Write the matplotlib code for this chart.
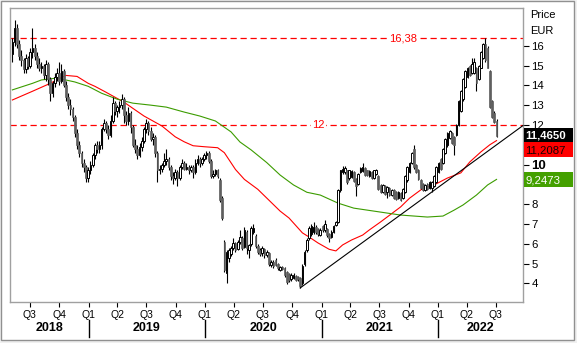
import matplotlib
matplotlib.use('Agg')
import matplotlib.pyplot as plt
import matplotlib.dates as mdates
import matplotlib.transforms as mtrans
from matplotlib.patches import Rectangle
from matplotlib.lines import Line2D
import pandas as pd

plt.rcParams['font.family'] = ['Liberation Sans', 'DejaVu Sans']

# ---------------- data ----------------
first_week = '2018-05-07'
opens = [15.6, 16.2, 16.9, 16.1, 15.5, 15.3, 14.8, 15.4, 15.0, 15.7, 15.9, 15.5, 15.1, 14.9, 15.0, 14.5,
         15.1, 14.3, 13.6, 14.1, 14.4, 14.6, 14.2, 14.7, 14.0, 13.4, 13.0, 12.8, 12.4, 11.6, 11.0, 10.6,
         10.1, 9.9, 9.3, 9.7, 10.0, 10.5, 11.0, 10.8, 11.0, 11.8, 12.1, 11.8, 11.5, 12.2, 13.1, 12.7,
         12.9, 13.0, 13.3, 12.5, 12.2, 12.6, 11.9, 11.0, 10.8, 10.5, 10.9, 11.2, 11.8, 12.1, 11.7, 11.3,
         11.4, 10.6, 9.7, 9.8, 10.0, 10.2, 10.3, 9.9, 9.4, 9.3, 9.6, 9.3, 9.9, 10.1, 9.8, 9.9,
         9.7, 9.9, 9.6, 10.1, 10.3, 10.1, 10.3, 10.5, 10.6, 10.2, 9.4, 9.5, 9.7, 9.2, 8.3, 6.1,
         4.5, 5.3, 5.5, 5.8, 6.05, 5.75, 6.1, 6.3, 5.85, 6.6, 5.7, 6.0, 6.6, 6.4, 5.9, 5.7,
         5.55, 5.75, 5.45, 5.55, 4.95, 5.1, 5.2, 5.0, 4.7, 4.85, 4.8, 4.6, 4.45, 4.2, 4.25, 4.35,
         4.3, 4.25, 4.0, 5.0, 5.7, 6.3, 6.5, 6.6, 6.85, 6.75, 6.45, 6.9, 6.7, 6.75, 6.5, 6.35,
         6.6, 6.95, 7.1, 8.7, 9.6, 9.6, 9.7, 9.3, 9.35, 9.6, 9.25, 9.0, 9.6, 9.65, 9.85, 9.7,
         9.4, 9.6, 9.3, 9.5, 9.4, 8.95, 8.6, 8.9, 8.6, 8.8, 8.45, 8.7, 8.6, 8.3, 8.55, 8.3,
         8.6, 9.2, 9.6, 10.1, 10.8, 10.0, 9.75, 9.2, 9.0, 8.7, 9.0, 8.8, 8.8, 8.9, 9.1, 9.6,
         10.3, 10.1, 10.6, 11.0, 11.35, 11.6, 11.4, 11.5, 12.0, 12.7, 13.3, 13.9, 14.4, 15.0, 14.6, 14.6,
         14.9, 14.3, 14.9, 15.4, 16.1, 15.9, 14.7, 13.2, 12.6, 12.2]
highs = [16.4, 17.3, 17.1, 16.3, 15.8, 15.4, 15.6, 15.5, 15.9, 16.9, 16.1, 15.7, 15.4, 15.2, 15.1, 15.3,
         15.2, 14.4, 14.2, 14.6, 14.9, 15.2, 15.1, 14.8, 14.2, 13.6, 13.3, 12.9, 12.5, 11.8, 11.2, 10.7,
         10.3, 10.0, 9.9, 10.2, 10.6, 11.1, 11.2, 11.2, 11.9, 12.3, 12.2, 12.0, 12.5, 13.4, 13.2, 13.0,
         13.2, 13.55, 13.4, 12.7, 12.9, 12.7, 12.0, 11.3, 11.0, 11.1, 11.4, 11.9, 12.3, 12.2, 11.9, 11.6,
         11.5, 10.7, 10.0, 10.1, 10.6, 10.8, 10.4, 10.0, 9.6, 9.8, 9.7, 10.0, 10.3, 10.2, 10.1, 10.0,
         10.0, 10.0, 10.3, 10.5, 10.4, 10.4, 10.6, 10.7, 10.7, 10.3, 9.7, 9.8, 9.8, 9.3, 8.4, 6.2,
         5.7, 5.8, 5.9, 6.3, 6.1, 6.2, 6.7, 6.4, 6.85, 6.7, 6.0, 6.9, 7.0, 6.5, 6.0, 5.8,
         5.9, 5.8, 5.7, 5.6, 5.2, 5.2, 5.3, 5.05, 4.9, 4.9, 4.85, 4.65, 4.5, 4.5, 4.5, 4.4,
         4.35, 4.3, 5.0, 5.7, 6.3, 6.9, 7.0, 7.1, 6.95, 6.8, 6.8, 6.95, 7.2, 6.8, 6.55, 6.7,
         6.95, 7.15, 8.75, 9.75, 9.95, 9.95, 9.75, 9.75, 9.7, 9.65, 9.3, 9.55, 9.9, 10.1, 9.9, 9.75,
         9.7, 9.65, 9.75, 9.8, 9.45, 9.0, 9.0, 8.95, 8.9, 8.85, 8.75, 8.75, 8.65, 8.65, 8.6, 8.8,
         9.45, 9.95, 10.15, 10.65, 11.0, 10.05, 9.8, 9.25, 9.05, 9.0, 9.05, 9.15, 9.15, 9.45, 9.95, 10.15,
         10.35, 10.85, 11.35, 11.65, 11.75, 11.65, 11.45, 12.05, 13.25, 13.75, 14.35, 14.75, 14.95, 15.05, 15.4, 15.4,
         14.95, 15.05, 15.75, 16.15, 16.38, 16.0, 14.75, 13.25, 12.7, 12.3]
lows = [15.2, 16.0, 15.9, 15.3, 15.0, 14.6, 14.6, 14.8, 14.9, 15.4, 15.3, 14.9, 14.7, 14.6, 14.3, 14.2,
        14.0, 13.2, 13.4, 13.9, 14.2, 14.0, 14.1, 13.9, 13.2, 12.8, 12.5, 12.2, 11.4, 10.8, 10.4, 9.9,
        9.6, 9.1, 9.1, 9.5, 9.9, 10.3, 10.6, 10.6, 10.8, 11.7, 11.6, 11.3, 11.4, 12.1, 12.5, 12.4,
        12.6, 12.8, 12.1, 12.0, 12.0, 11.6, 10.9, 10.6, 10.3, 10.4, 10.7, 11.1, 11.6, 11.5, 11.2, 11.0,
        10.4, 9.1, 9.5, 9.6, 9.9, 10.0, 9.7, 9.2, 9.0, 9.2, 8.9, 9.2, 9.8, 9.7, 9.7, 9.5,
        9.6, 9.3, 9.5, 10.0, 9.9, 10.0, 10.2, 10.3, 10.1, 9.3, 9.3, 9.4, 9.3, 8.1, 7.2, 4.6,
        4.0, 5.1, 5.4, 5.7, 5.6, 5.7, 6.0, 5.7, 5.8, 5.5, 5.3, 5.9, 6.5, 5.8, 5.5, 5.4,
        5.4, 5.3, 5.35, 4.9, 4.85, 4.8, 4.9, 4.7, 4.65, 4.7, 4.3, 3.95, 4.05, 4.1, 4.2, 4.1,
        4.1, 3.75, 3.9, 4.9, 5.6, 6.2, 6.4, 6.5, 6.5, 6.4, 6.4, 6.6, 6.6, 6.35, 6.1, 6.3,
        6.55, 6.9, 7.05, 8.6, 9.5, 9.5, 9.0, 9.2, 9.3, 9.1, 8.4, 8.95, 9.55, 9.6, 9.4, 9.4,
        9.35, 9.25, 9.25, 9.45, 8.7, 8.55, 8.55, 8.45, 8.3, 8.4, 8.4, 8.25, 8.2, 8.25, 8.15, 8.25,
        8.55, 9.1, 9.55, 10.05, 9.8, 9.55, 9.2, 8.75, 8.65, 8.65, 8.7, 8.75, 8.6, 8.85, 9.05, 9.55,
        9.75, 10.05, 10.55, 10.9, 11.3, 11.05, 10.5, 11.45, 11.95, 12.65, 13.2, 13.85, 14.35, 14.45, 14.55, 14.55,
        13.7, 14.25, 14.85, 15.35, 15.2, 14.85, 12.85, 12.35, 12.1, 11.4]
closes = [16.2, 16.9, 16.1, 15.5, 15.3, 14.8, 15.4, 15.0, 15.7, 15.9, 15.5, 15.1, 14.9, 15.0, 14.5, 15.1,
          14.3, 13.6, 14.1, 14.4, 14.6, 14.2, 14.7, 14.0, 13.4, 13.0, 12.8, 12.4, 11.6, 11.0, 10.6, 10.1,
          9.9, 9.3, 9.7, 10.0, 10.5, 11.0, 10.8, 11.0, 11.8, 12.1, 11.8, 11.5, 12.2, 13.1, 12.7, 12.9,
          13.0, 13.3, 12.5, 12.2, 12.6, 11.9, 11.0, 10.8, 10.5, 10.9, 11.2, 11.8, 12.1, 11.7, 11.3, 11.4,
          10.6, 9.7, 9.8, 10.0, 10.2, 10.3, 9.9, 9.4, 9.3, 9.6, 9.3, 9.9, 10.1, 9.8, 9.9, 9.7,
          9.9, 9.6, 10.1, 10.3, 10.1, 10.3, 10.5, 10.6, 10.2, 9.4, 9.5, 9.7, 9.4, 8.2, 7.3, 4.7,
          5.6, 5.7, 5.8, 6.05, 5.7, 6.1, 6.35, 5.8, 6.7, 5.8, 5.95, 6.8, 6.8, 5.9, 5.6, 5.5,
          5.8, 5.45, 5.6, 5.0, 5.1, 4.9, 4.95, 4.8, 4.85, 4.75, 4.4, 4.05, 4.15, 4.4, 4.4, 4.15,
          4.2, 3.85, 4.9, 5.6, 6.2, 6.8, 6.9, 6.85, 6.6, 6.5, 6.7, 6.7, 7.0, 6.45, 6.3, 6.6,
          6.9, 7.1, 8.7, 9.7, 9.8, 9.85, 9.1, 9.7, 9.65, 9.15, 8.9, 9.5, 9.85, 9.9, 9.45, 9.45,
          9.65, 9.3, 9.7, 9.75, 8.75, 8.6, 8.95, 8.5, 8.85, 8.45, 8.7, 8.3, 8.25, 8.6, 8.2, 8.75,
          9.4, 9.9, 10.1, 10.6, 9.9, 9.6, 9.25, 8.8, 8.7, 8.95, 8.75, 9.1, 9.1, 9.4, 9.9, 10.1,
          9.8, 10.8, 11.3, 11.6, 11.7, 11.1, 11.0, 12.0, 13.2, 13.7, 14.3, 14.7, 14.9, 14.5, 15.1, 15.2,
          14.1, 15.0, 15.7, 16.1, 15.3, 14.9, 12.9, 12.4, 12.15, 11.465]

# moving averages (candle index, value)
red_ma_idx = [0, 9, 17, 22, 24, 29, 34, 37, 42, 50, 59, 67, 73, 77, 81, 86, 92, 95, 100, 104, 110,
              115, 120, 124, 130, 133, 137, 142, 145, 148, 152, 157, 160, 165, 174, 178, 184, 189,
              195, 201, 205, 210, 214, 217]
red_ma_val = [13.26, 13.7, 14.1, 14.4, 14.5, 14.45, 14.1, 13.95, 13.65, 13.15, 12.45, 11.95, 11.4,
              11.15, 10.95, 10.9, 10.85, 10.6, 9.75, 9.25, 8.75, 8.2, 7.65, 7.3, 6.55, 6.34, 6.04,
              5.72, 5.64, 5.94, 6.19, 6.44, 6.7, 7.1, 7.86, 8.3, 8.8, 8.97, 9.32, 9.58, 10.13, 10.64,
              11.0, 11.21]
green_ma_idx = [0, 9, 13, 20, 28, 34, 40, 47, 54, 62, 69, 77, 84, 91, 98, 102, 107, 114, 120, 126,
                132, 138, 146, 153, 165, 174, 180, 186, 193, 198, 202, 208, 213, 217]
green_ma_val = [13.77, 14.1, 14.27, 14.37, 14.17, 13.95, 13.6, 13.3, 13.1, 13.0, 12.9, 12.65, 12.45,
                12.2, 11.65, 11.14, 10.74, 10.1, 9.47, 8.97, 8.6, 8.46, 8.05, 7.8, 7.6, 7.45, 7.4,
                7.35, 7.4, 7.7, 7.96, 8.46, 8.97, 9.25]

trend_start_idx = 129
trend_start_val = 3.77
trend_end_date = '2022-09-25'
trend_end_val = 11.97

level_high = 16.38
level_mid = 12.0
last_close = 11.4650
last_red = 11.2087
last_green = 9.2473

y_ticks = [4, 5, 6, 7, 8, 9, 10, 11, 12, 13, 14, 15, 16]
y_hidden = [9, 11]          # labels covered by the value boxes
years = [2018, 2019, 2020, 2021, 2022]

# ---------------- figure ----------------
W, H = 577, 343
fig = plt.figure(figsize=(W / 100, H / 100), dpi=100, facecolor='#f0f0f0')
fig.add_artist(Rectangle((0.5 / W, 1 - 340 / H), 573.5 / W, 339.5 / H, transform=fig.transFigure,
                         facecolor='white', edgecolor='#909090', lw=1.0, zorder=-5))

L, R, T, B = 9.5, 523, 7.5, 302
ax = fig.add_axes([L / W, 1 - B / H, (R - L) / W, (B - T) / H])
ax.set_facecolor('white')

dates = pd.date_range(first_week, periods=len(closes), freq='7D')
xd = mdates.date2num(dates.to_pydatetime())

body_w = 5.2
for x, o, h, l, c in zip(xd, opens, highs, lows, closes):
    up = c >= o
    ax.vlines(x, l, h, color='black', lw=0.8, zorder=3)
    bot = min(o, c)
    ht = max(abs(c - o), 0.03)
    if up:
        ax.bar(x, ht, bottom=bot, width=body_w, facecolor='white', edgecolor='black', lw=0.7, zorder=4)
    else:
        ax.bar(x, ht, bottom=bot, width=body_w, facecolor='#5f5f5f', edgecolor='#5f5f5f', lw=0.5, zorder=4)

ax.plot(xd[red_ma_idx], red_ma_val, color='#ff0000', lw=0.8, zorder=2)
ax.plot(xd[green_ma_idx], green_ma_val, color='#3c9c00', lw=0.8, zorder=2)

x_end = mdates.date2num(pd.Timestamp(trend_end_date).to_pydatetime())
ax.plot([xd[trend_start_idx], x_end], [trend_start_val, trend_end_val], color='black', lw=0.8,
        zorder=5, clip_on=False)

for lv in (level_high, level_mid):
    ax.axhline(lv, color='#ff0000', lw=0.9, linestyle=(0, (5, 3)), zorder=1)

blend = mtrans.blended_transform_factory(ax.transAxes, ax.transData)
ax.text(0.766, level_high, '16,38', transform=blend, ha='center', va='center', fontsize=8,
        color='#ff0000', bbox=dict(facecolor='white', edgecolor='none', pad=1.0), zorder=6)
ax.text(0.601, level_mid, '12', transform=blend, ha='center', va='center', fontsize=8,
        color='#ff0000', bbox=dict(facecolor='white', edgecolor='none', pad=1.0), zorder=6)

xmin = mdates.date2num(pd.Timestamp('2018-04-28').to_pydatetime())
ax.set_xlim(xmin, x_end)
ax.set_ylim(3.06, 17.93)

for s in ax.spines.values():
    s.set_color('#a0a0a0')
    s.set_linewidth(1.0)

# y axis right
ax.yaxis.tick_right()
ax.set_yticks(y_ticks)
ax.set_yticklabels(['' if v in y_hidden else str(v) for v in y_ticks])
ax.tick_params(axis='y', direction='out', length=4, width=0.8, pad=2, labelsize=8.2,
               colors='black')
for lab in ax.get_yticklabels():
    if lab.get_text() == '10':
        lab.set_fontweight('bold')
        lab.set_fontsize(9.5)

# x axis quarters
qstarts = pd.date_range('2018-07-01', '2022-07-01', freq='QS')
ax.set_xticks(mdates.date2num(qstarts.to_pydatetime()))
ax.set_xticklabels(['Q%d' % ((d.month - 1) // 3 + 1) for d in qstarts])
ax.tick_params(axis='x', direction='out', length=3.5, width=0.8, pad=2, labelsize=7.5, colors='black')

bl = mtrans.blended_transform_factory(ax.transData, ax.transAxes)
ax_h = B - T
for yr in years:
    a = max(xmin, mdates.date2num(pd.Timestamp(f'{yr}-01-01').to_pydatetime()))
    b = min(x_end, mdates.date2num(pd.Timestamp(f'{yr + 1}-01-01').to_pydatetime()))
    ax.text((a + b) / 2, -(328 - B) / ax_h, str(yr), transform=bl, ha='center', va='center',
            fontsize=9, fontweight='bold', clip_on=False)
    if yr > years[0]:
        xs = mdates.date2num(pd.Timestamp(f'{yr}-01-01').to_pydatetime())
        ax.add_line(Line2D([xs, xs], [-(320 - B) / ax_h, -(337 - B) / ax_h], transform=bl,
                           color='black', lw=1.0, clip_on=False))

# right side labels
fig.text(530 / W, 1 - 15 / H, 'Price', fontsize=8, ha='left', va='center')
fig.text(530 / W, 1 - 31 / H, 'EUR', fontsize=8, ha='left', va='center')

bx = mtrans.blended_transform_factory(fig.transFigure, ax.transData)
boxes = [(last_close, 11.14, 11.85, 'black', 'white', 'bold'),
         (last_red, 10.38, 11.14, '#ff0000', '#1a0000', 'normal'),
         (last_green, 8.87, 9.63, '#44a000', 'white', 'normal')]
for val, y0, y1, fc, tc, fw in boxes:
    fig.add_artist(Rectangle((523.5 / W, y0), 49.5 / W, y1 - y0, transform=bx, facecolor=fc,
                             edgecolor='none', zorder=10))
    fig.text(525 / W, (y0 + y1) / 2 - 0.03, ('%.4f' % val).replace('.', ','), transform=bx, fontsize=8.2,
             fontweight=fw, color=tc, ha='left', va='center', zorder=11)

fig.savefig('out.png', dpi=100, facecolor=fig.get_facecolor())
